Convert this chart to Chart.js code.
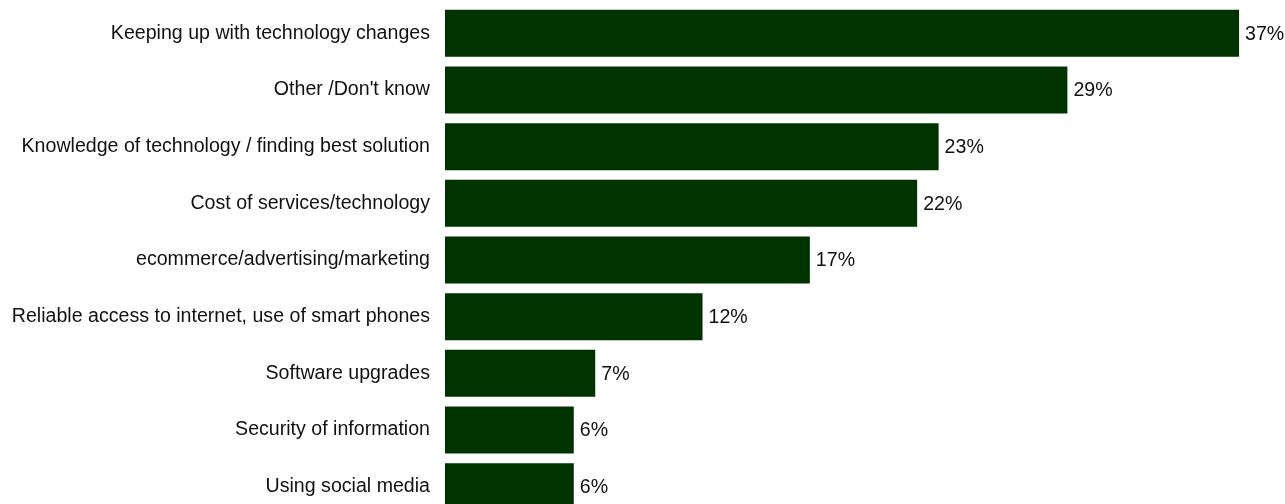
<!DOCTYPE html>
<html>
<head>
<meta charset="utf-8">
<script src="https://cdn.jsdelivr.net/npm/chart.js@4.4.1/dist/chart.umd.min.js"></script>
<style>
  html, body { margin: 0; padding: 0; background: #ffffff; overflow: hidden; }
  #wrap { width: 1285px; height: 504px; overflow: hidden; }
  canvas { display: block; }
</style>
</head>
<body>
<div id="wrap"><canvas id="chart" width="1285" height="520"></canvas></div>
<script>
// Technology challenges, share of respondents (%)
const categories = [
  "Keeping up with technology changes",
  "Other /Don't know",
  "Knowledge of technology / finding best solution",
  "Cost of services/technology",
  "ecommerce/advertising/marketing",
  "Reliable access to internet, use of smart phones",
  "Software upgrades",
  "Security of information",
  "Using social media"
];
const shares = [37, 29, 23, 22, 17, 12, 7, 6, 6];

const BAR_COLOR = "#003300";
const FONT = { family: "'Liberation Sans', Arial, Helvetica, sans-serif", size: 19.6 };

// writes "NN%" just past the end of each bar
const valueLabels = {
  id: "valueLabels",
  afterDatasetsDraw(chart) {
    const ctx = chart.ctx;
    const meta = chart.getDatasetMeta(0);
    ctx.save();
    ctx.font = FONT.size + "px " + FONT.family;
    ctx.fillStyle = "#111111";
    ctx.textAlign = "left";
    ctx.textBaseline = "middle";
    meta.data.forEach((bar, i) => {
      ctx.fillText(shares[i] + "%", bar.x + 6, bar.y + 1);
    });
    ctx.restore();
  }
};

new Chart(document.getElementById("chart"), {
  type: "bar",
  data: {
    labels: categories,
    datasets: [{
      data: shares,
      backgroundColor: BAR_COLOR,
      borderWidth: 0,
      barPercentage: 0.83,
      categoryPercentage: 1.0
    }]
  },
  options: {
    indexAxis: "y",
    responsive: false,
    animation: false,
    devicePixelRatio: 1,
    layout: { padding: { top: 5, bottom: 5, left: 0, right: 3 } },
    plugins: {
      legend: { display: false },
      tooltip: { enabled: false }
    },
    scales: {
      x: {
        display: false,
        min: 0,
        max: 39
      },
      y: {
        grid: { display: false, drawTicks: false },
        border: { display: false },
        ticks: {
          color: "#111111",
          font: FONT,
          padding: 15,
          autoSkip: false
        },
        afterFit(scale) {
          scale.width = 445;
          scale.paddingTop = 0;
          scale.paddingBottom = 0;
        }
      }
    }
  },
  plugins: [valueLabels]
});
</script>
</body>
</html>
